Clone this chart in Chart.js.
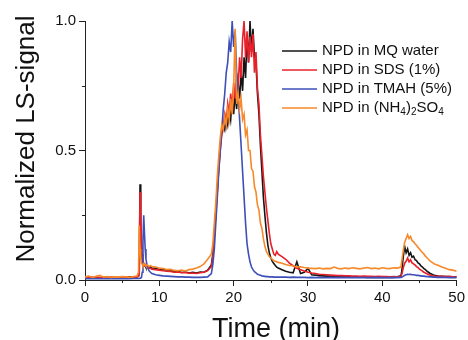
<!DOCTYPE html>
<html>
<head>
<meta charset="utf-8">
<script src="https://cdn.jsdelivr.net/npm/chart.js@4.4.1/dist/chart.umd.min.js"></script>
<style>
  html, body { margin: 0; padding: 0; background: #fff; }
</style>
</head>
<body>
<canvas id="lsChart" width="468" height="340"></canvas>
<script>
// elution time (min), sampled closer where the signal moves fast
const times = [
  0, 0.5, 1, 1.5, 2, 2.5, 3, 3.5, 4, 4.5, 5, 5.5, 6, 6.5, 7,
  7.2, 7.3, 7.4, 7.5, 7.6, 7.7, 7.8, 7.9, 8, 8.1, 8.2, 8.4, 8.6, 8.8, 9,
  9.5, 10, 10.5, 11, 11.5, 12, 12.5, 13, 13.5, 14, 14.5, 15, 15.5, 16, 16.5, 17,
  17.2, 17.4, 17.6, 17.8, 18, 18.2, 18.4, 18.6, 18.8, 19, 19.2, 19.4, 19.6, 19.8, 20,
  20.2, 20.4, 20.6, 20.8, 21, 21.2, 21.4, 21.6, 21.8, 22, 22.2, 22.4, 22.6, 22.8, 23,
  23.2, 23.4, 23.6, 23.8, 24, 24.2, 24.4, 24.6, 24.8, 25, 25.2, 25.4, 25.6, 25.8, 26,
  26.5, 27, 27.5, 28, 28.5, 29, 29.5, 30, 30.5, 31, 31.5, 32, 32.5, 33, 33.5, 34, 34.5,
  35, 35.5, 36, 36.5, 37, 37.5, 38, 38.5, 39, 39.5, 40, 40.5, 41, 41.5, 42, 42.5,
  42.6, 42.8, 43, 43.2, 43.4, 43.6, 43.8, 44, 44.2, 44.4, 44.6, 44.8, 45, 45.2, 45.4,
  45.6, 45.8, 46, 46.2, 46.4, 46.6, 46.8, 47,
  47.5, 48, 48.5, 49, 49.5, 50
];

const mqWater = [
  0.010, 0.012, 0.009, 0.011, 0.008, 0.010, 0.012, 0.009, 0.010, 0.008, 0.011, 0.010, 0.012, 0.010, 0.013,
  0.015, 0.030, 0.370, 0.200, 0.120, 0.080, 0.065, 0.060, 0.055, 0.058, 0.050, 0.052, 0.046, 0.050, 0.045,
  0.045, 0.040, 0.043, 0.036, 0.038, 0.032, 0.034, 0.029, 0.031, 0.027, 0.030, 0.027, 0.031, 0.030, 0.038, 0.058,
  0.100, 0.180, 0.260, 0.350, 0.440, 0.520, 0.570, 0.600, 0.580, 0.630, 0.600, 0.660, 0.620, 0.700, 0.640,
  0.720, 0.660, 0.760, 0.700, 0.800, 0.730, 0.860, 0.780, 0.940, 0.840, 1.000, 0.880, 0.970, 0.860, 0.840,
  0.720, 0.640, 0.520, 0.420, 0.320, 0.250, 0.185, 0.135, 0.105, 0.085, 0.072, 0.064, 0.056, 0.050, 0.046,
  0.040, 0.034, 0.030, 0.028, 0.070, 0.025, 0.030, 0.045, 0.020, 0.019, 0.017, 0.016, 0.015, 0.015, 0.014, 0.013, 0.013,
  0.012, 0.012, 0.011, 0.012, 0.011, 0.011, 0.010, 0.011, 0.010, 0.011, 0.010, 0.010, 0.011, 0.010, 0.012, 0.016,
  0.030, 0.085, 0.130, 0.105, 0.120, 0.095, 0.105, 0.088, 0.092, 0.078, 0.075, 0.066, 0.062, 0.054, 0.050,
  0.044, 0.040, 0.034, 0.030, 0.026, 0.023, 0.020, 0.018,
  0.015, 0.014, 0.013, 0.013, 0.012, 0.012
];

const sds = [
  0.008, 0.010, 0.011, 0.009, 0.010, 0.008, 0.010, 0.011, 0.009, 0.010, 0.009, 0.011, 0.010, 0.011, 0.012,
  0.014, 0.025, 0.340, 0.250, 0.150, 0.100, 0.075, 0.065, 0.060, 0.055, 0.052, 0.050, 0.046, 0.045, 0.042,
  0.040, 0.038, 0.036, 0.034, 0.033, 0.030, 0.031, 0.028, 0.029, 0.026, 0.027, 0.025, 0.028, 0.030, 0.036, 0.052,
  0.090, 0.170, 0.250, 0.340, 0.430, 0.500, 0.560, 0.600, 0.640, 0.600, 0.680, 0.640, 0.720, 0.660, 0.760,
  0.700, 0.800, 0.740, 0.860, 0.780, 0.930, 1.000, 0.860, 0.960, 0.840, 0.940, 0.860, 0.950, 0.800, 0.880,
  0.740, 0.680, 0.560, 0.480, 0.400, 0.340, 0.280, 0.230, 0.180, 0.140, 0.120, 0.100, 0.095, 0.110, 0.100,
  0.090, 0.080, 0.065, 0.055, 0.045, 0.040, 0.035, 0.030, 0.027, 0.025, 0.022, 0.021, 0.020, 0.019, 0.018, 0.017, 0.017,
  0.016, 0.016, 0.015, 0.015, 0.014, 0.015, 0.014, 0.014, 0.013, 0.014, 0.013, 0.013, 0.012, 0.013, 0.012, 0.013,
  0.020, 0.045, 0.065, 0.072, 0.085, 0.070, 0.078, 0.066, 0.062, 0.058, 0.052, 0.048, 0.042, 0.038, 0.034,
  0.030, 0.027, 0.024, 0.021, 0.019, 0.018, 0.016, 0.015,
  0.014, 0.014, 0.013, 0.013, 0.012, 0.012
];

const tmah = [
  0.005, 0.006, 0.005, 0.006, 0.005, 0.005, 0.006, 0.005, 0.006, 0.005, 0.005, 0.006, 0.005, 0.006, 0.006,
  0.006, 0.006, 0.007, 0.008, 0.010, 0.030, 0.150, 0.250, 0.180, 0.120, 0.080, 0.050, 0.036, 0.030, 0.025,
  0.020, 0.018, 0.016, 0.015, 0.014, 0.013, 0.012, 0.012, 0.011, 0.011, 0.010, 0.010, 0.010, 0.011, 0.012, 0.025,
  0.060, 0.120, 0.220, 0.320, 0.420, 0.500, 0.580, 0.660, 0.720, 0.800, 0.840, 0.920, 0.880, 1.000, 0.900,
  0.960, 0.800, 0.720, 0.620, 0.520, 0.420, 0.320, 0.220, 0.140, 0.100, 0.070, 0.050, 0.040, 0.032, 0.028,
  0.022, 0.020, 0.018, 0.016, 0.015, 0.014, 0.013, 0.013, 0.012, 0.012, 0.012, 0.011, 0.011, 0.011, 0.011,
  0.011, 0.011, 0.010, 0.011, 0.010, 0.010, 0.010, 0.009, 0.010, 0.009, 0.010, 0.009, 0.009, 0.010, 0.009, 0.009, 0.010,
  0.009, 0.009, 0.009, 0.010, 0.009, 0.009, 0.009, 0.009, 0.010, 0.009, 0.009, 0.009, 0.009, 0.010, 0.009, 0.010,
  0.011, 0.014, 0.018, 0.020, 0.022, 0.021, 0.022, 0.020, 0.020, 0.019, 0.018, 0.018, 0.017, 0.016, 0.015,
  0.015, 0.014, 0.013, 0.013, 0.012, 0.012, 0.011, 0.011,
  0.010, 0.010, 0.010, 0.009, 0.009, 0.009
];

const ammSulfate = [
  0.012, 0.015, 0.010, 0.014, 0.018, 0.011, 0.013, 0.010, 0.012, 0.011, 0.013, 0.012, 0.010, 0.013, 0.015,
  0.030, 0.210, 0.120, 0.080, 0.065, 0.060, 0.055, 0.062, 0.058, 0.060, 0.055, 0.058, 0.052, 0.056, 0.052,
  0.050, 0.046, 0.044, 0.040, 0.041, 0.037, 0.036, 0.038, 0.035, 0.040, 0.042, 0.046, 0.052, 0.062, 0.080, 0.100,
  0.140, 0.220, 0.300, 0.400, 0.480, 0.550, 0.600, 0.580, 0.630, 0.600, 0.660, 0.620, 0.700, 0.640, 0.740,
  0.970, 0.680, 0.720, 0.660, 0.700, 0.620, 0.640, 0.560, 0.580, 0.500, 0.500, 0.430, 0.420, 0.360, 0.340,
  0.290, 0.270, 0.220, 0.200, 0.160, 0.130, 0.110, 0.100, 0.090, 0.085, 0.080, 0.075, 0.072, 0.070, 0.068,
  0.065, 0.060, 0.056, 0.055, 0.050, 0.051, 0.048, 0.046, 0.045, 0.044, 0.046, 0.043, 0.045, 0.044, 0.050, 0.045, 0.043,
  0.046, 0.044, 0.047, 0.045, 0.043, 0.046, 0.048, 0.044, 0.046, 0.043, 0.047, 0.045, 0.044, 0.047, 0.046, 0.050,
  0.070, 0.110, 0.145, 0.160, 0.175, 0.160, 0.168, 0.152, 0.148, 0.140, 0.134, 0.126, 0.120, 0.112, 0.106,
  0.100, 0.092, 0.086, 0.080, 0.074, 0.070, 0.066, 0.062,
  0.057, 0.050, 0.045, 0.040, 0.038, 0.034
];

const seriesLabels = ['NPD in MQ water', 'NPD in SDS (1%)', 'NPD in TMAH (5%)', 'NPD in (NH₄)₂SO₄'];
const seriesColors = ['#151515', '#e8202a', '#3d4fb8', '#f7892a'];
const xTicks = [0, 10, 20, 30, 40, 50];
const xMinor = [5, 15, 25, 35, 45];
const yTicks = [0, 0.5, 1];
const yMinor = [0.25, 0.75];

const FONT = '"Liberation Sans", Arial, sans-serif';
Chart.defaults.font.family = FONT;

const pts = vals => times.map((t, i) => ({ x: t, y: vals[i] }));

// draws text where ₀..₉ become small lowered digits
function drawRich(ctx, text, x, y, size) {
  const subs = '₀₁₂₃₄₅₆₇₈₉';
  let cx = x;
  for (const ch of text) {
    const k = subs.indexOf(ch);
    if (k >= 0) {
      ctx.font = Math.round(size * 0.66) + 'px ' + FONT;
      ctx.fillText(String(k), cx, y + size * 0.28);
      cx += ctx.measureText(String(k)).width;
    } else {
      ctx.font = size + 'px ' + FONT;
      ctx.fillText(ch, cx, y);
      cx += ctx.measureText(ch).width;
    }
  }
}

const extras = {
  id: 'extras',
  afterDraw(chart) {
    const { ctx, chartArea: a, scales: { x, y } } = chart;
    ctx.save();
    ctx.strokeStyle = '#222';
    ctx.lineWidth = 1;
    ctx.beginPath();
    yMinor.forEach(v => {
      const py = Math.round(y.getPixelForValue(v)) + 0.5;
      ctx.moveTo(a.left - 3, py); ctx.lineTo(a.left, py);
    });
    xMinor.forEach(v => {
      const px = Math.round(x.getPixelForValue(v)) + 0.5;
      ctx.moveTo(px, a.bottom); ctx.lineTo(px, a.bottom + 3);
    });
    ctx.stroke();

    // axis titles
    ctx.fillStyle = '#111';
    ctx.font = '27px ' + FONT;
    ctx.textAlign = 'center';
    ctx.textBaseline = 'alphabetic';
    ctx.fillText('Time (min)', 276, 337);
    ctx.save();
    ctx.translate(34, 139);
    ctx.rotate(-Math.PI / 2);
    ctx.font = '26px ' + FONT;
    ctx.fillText('Normalized LS-signal', 0, 0);
    ctx.restore();

    // legend
    ctx.textAlign = 'left';
    ctx.textBaseline = 'middle';
    seriesLabels.forEach((lab, i) => {
      const ly = 51 + i * 19;
      ctx.strokeStyle = seriesColors[i];
      ctx.lineWidth = 1.5;
      ctx.beginPath();
      ctx.moveTo(282, ly); ctx.lineTo(317, ly);
      ctx.stroke();
      ctx.fillStyle = '#111';
      drawRich(ctx, lab, 322, ly, 15);
    });
    ctx.restore();
  }
};

const series = [mqWater, sds, tmah, ammSulfate];

new Chart(document.getElementById('lsChart'), {
  type: 'line',
  data: {
    datasets: series.map((vals, i) => ({
      label: seriesLabels[i],
      data: pts(vals),
      borderColor: seriesColors[i],
      borderWidth: 1.6,
      pointRadius: 0,
      tension: 0,
      fill: false,
      order: 4 - i
    }))
  },
  options: {
    responsive: false,
    animation: false,
    layout: { padding: { left: 0, top: 21, right: 9, bottom: 0 } },
    plugins: { legend: { display: false }, tooltip: { enabled: false } },
    scales: {
      x: {
        type: 'linear', min: 0, max: 50,
        afterBuildTicks: s => { s.ticks = xTicks.map(v => ({ value: v })); },
        afterFit: s => { s.height = 60; },
        ticks: { font: { size: 15 }, color: '#111', padding: 3, maxRotation: 0 },
        grid: { drawOnChartArea: false, tickLength: 6, color: '#222' },
        border: { color: '#222', width: 1 }
      },
      y: {
        min: 0, max: 1,
        afterBuildTicks: s => { s.ticks = yTicks.map(v => ({ value: v })); },
        afterFit: s => { s.width = 85; },
        ticks: { font: { size: 15 }, color: '#111', padding: 3, callback: v => v.toFixed(1) },
        grid: { drawOnChartArea: false, tickLength: 6, color: '#222' },
        border: { color: '#222', width: 1 }
      }
    }
  },
  plugins: [extras]
});
</script>
</body>
</html>
